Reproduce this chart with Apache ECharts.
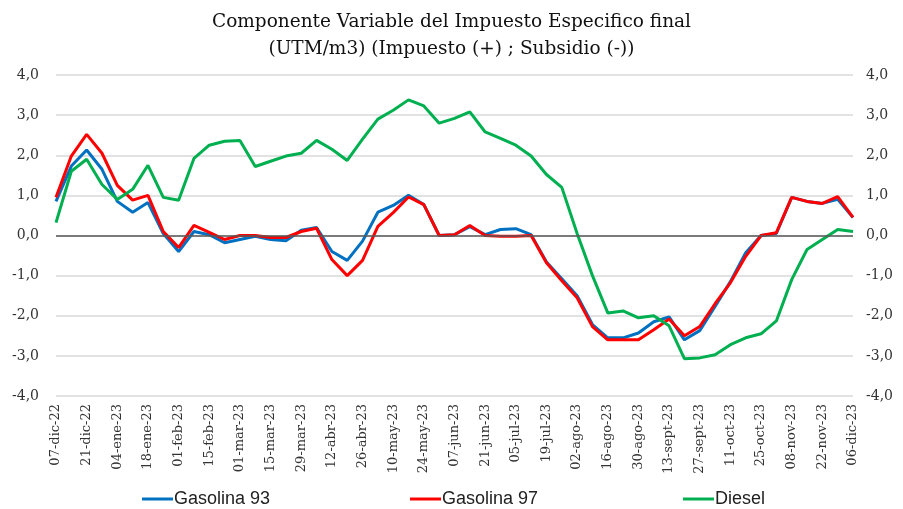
<!DOCTYPE html>
<html>
<head>
<meta charset="utf-8">
<script src="https://cdn.jsdelivr.net/npm/echarts@6/dist/echarts.min.js"></script>
<style>
  html, body { margin: 0; padding: 0; background: #fff; }
  #main { width: 903px; height: 509px; }
</style>
</head>
<body>
<div id="main"></div>
<script>
// semanas (miercoles) 07-dic-22 .. 06-dic-23
var weeks = ['07-dic-22','14-dic-22','21-dic-22','28-dic-22','04-ene-23','11-ene-23','18-ene-23','25-ene-23',
  '01-feb-23','08-feb-23','15-feb-23','22-feb-23','01-mar-23','08-mar-23','15-mar-23','22-mar-23',
  '29-mar-23','05-abr-23','12-abr-23','19-abr-23','26-abr-23','03-may-23','10-may-23','17-may-23',
  '24-may-23','31-may-23','07-jun-23','14-jun-23','21-jun-23','28-jun-23','05-jul-23','12-jul-23',
  '19-jul-23','26-jul-23','02-ago-23','09-ago-23','16-ago-23','23-ago-23','30-ago-23','06-sept-23',
  '13-sept-23','20-sept-23','27-sept-23','04-oct-23','11-oct-23','18-oct-23','25-oct-23','01-nov-23',
  '08-nov-23','15-nov-23','22-nov-23','29-nov-23','06-dic-23'];

var gas93 = [0.85, 1.73, 2.13, 1.65, 0.85, 0.58, 0.82, 0.05, -0.4, 0.1, 0.02, -0.18, -0.1, -0.02, -0.1, -0.13,
  0.13, 0.2, -0.4, -0.62, -0.14, 0.58, 0.75, 1.0, 0.77, 0.0, 0.02, 0.22, 0.02, 0.15, 0.17, 0.02,
  -0.66, -1.08, -1.5, -2.22, -2.55, -2.55, -2.43, -2.15, -2.03, -2.6, -2.37, -1.77, -1.15, -0.43, 0.0, 0.05,
  0.95, 0.85, 0.8, 0.9, 0.45];

var gas97 = [0.95, 1.98, 2.52, 2.05, 1.25, 0.88, 1.0, 0.1, -0.3, 0.25, 0.08, -0.1, 0.0, 0.0, -0.05, -0.05,
  0.1, 0.18, -0.6, -1.0, -0.62, 0.23, 0.57, 0.96, 0.77, 0.0, 0.02, 0.25, 0.0, -0.02, -0.02, 0.0,
  -0.68, -1.13, -1.55, -2.27, -2.6, -2.6, -2.6, -2.35, -2.08, -2.5, -2.27, -1.7, -1.18, -0.52, 0.0, 0.07,
  0.95, 0.85, 0.8, 0.97, 0.45];

var diesel = [0.32, 1.6, 1.9, 1.27, 0.9, 1.15, 1.75, 0.95, 0.88, 1.92, 2.25, 2.35, 2.37, 1.72, 1.85, 1.98,
  2.05, 2.37, 2.15, 1.87, 2.4, 2.9, 3.12, 3.38, 3.23, 2.8, 2.92, 3.08, 2.58, 2.42, 2.25, 1.98,
  1.52, 1.2, 0.05, -1.0, -1.93, -1.88, -2.05, -2.0, -2.25, -3.07, -3.05, -2.97, -2.72, -2.55, -2.45, -2.13,
  -1.1, -0.35, -0.1, 0.15, 0.1];

var yTicks = [-4, -3, -2, -1, 0, 1, 2, 3, 4];

var chart = echarts.init(document.getElementById('main'));

function fmt(v) { return v.toFixed(1).replace('.', ','); }

var serif = 'DejaVu Serif';
var axisY = function (pos) {
  return {
    type: 'value', position: pos,
    min: yTicks[0], max: yTicks[yTicks.length - 1], interval: 1,
    axisLine: { show: false }, axisTick: { show: false },
    axisLabel: { formatter: fmt, color: '#333', fontFamily: serif, fontSize: 14, margin: pos == 'left' ? 17 : 13 },
    splitLine: { show: pos == 'left', lineStyle: { color: '#d9d9d9', width: 1.5 } }
  };
};

var option = {
  animation: false,
  title: {
    text: 'Componente Variable del Impuesto Especifico final\n(UTM/m3) (Impuesto (+) ; Subsidio (-))',
    left: 'center', top: 4,
    textStyle: { fontFamily: serif, fontWeight: 'normal', fontSize: 18.5, color: '#111', lineHeight: 27 }
  },
  legend: [
    { data: ['Gasolina 93'], left: 137, top: 485 },
    { data: ['Gasolina 97'], left: 405, top: 485 },
    { data: ['Diesel'], left: 678, top: 485 }
  ].map(function (l) {
    l.icon = 'rect'; l.itemWidth = 31; l.itemHeight = 3;
    l.textStyle = { fontFamily: 'Liberation Sans', fontSize: 18, color: '#222', padding: [0, 0, 0, -4] };
    return l;
  }),
  grid: { left: 56, right: 50, top: 75, bottom: 113 },
  xAxis: {
    type: 'category', data: weeks, boundaryGap: false,
    axisLine: { show: false }, axisTick: { show: false },
    axisLabel: { interval: 1, rotate: 90, fontFamily: serif, fontSize: 13, color: '#333', margin: 8 }
  },
  yAxis: [axisY('left'), axisY('right')],
  series: [
    {
      name: 'Gasolina 93', type: 'line', data: gas93, showSymbol: false,
      lineStyle: { color: '#0070C0', width: 3 }, itemStyle: { color: '#0070C0' },
      markLine: {
        silent: true, symbol: 'none', label: { show: false },
        lineStyle: { color: '#595959', width: 1.5, type: 'solid' },
        data: [{ yAxis: 0 }]
      }
    },
    {
      name: 'Gasolina 97', type: 'line', data: gas97, showSymbol: false,
      lineStyle: { color: '#FF0000', width: 3 }, itemStyle: { color: '#FF0000' }
    },
    {
      name: 'Diesel', type: 'line', data: diesel, showSymbol: false,
      lineStyle: { color: '#00B050', width: 3 }, itemStyle: { color: '#00B050' }
    }
  ]
};

chart.setOption(option);
</script>
</body>
</html>
